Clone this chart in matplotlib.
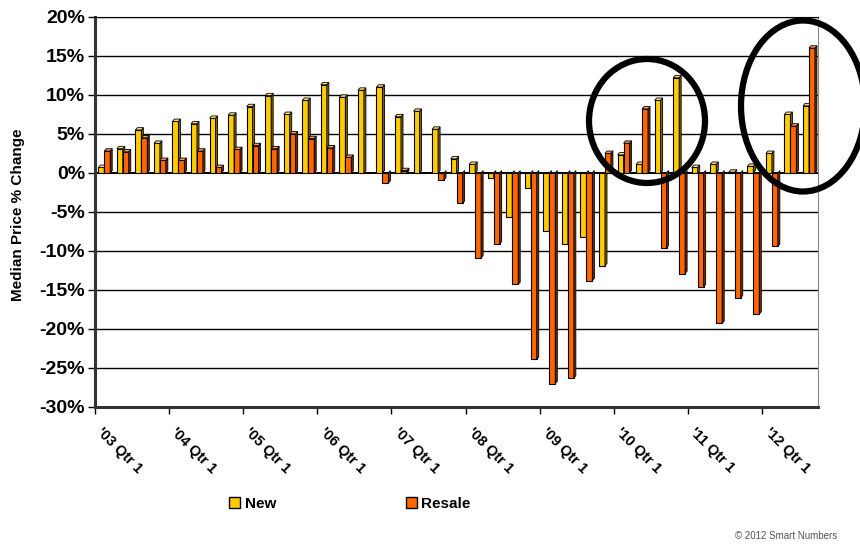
import numpy as np
import matplotlib
matplotlib.use("Agg")
import matplotlib.pyplot as plt
from matplotlib.patches import Patch, Ellipse

plt.rcParams["font.family"] = ["Liberation Sans", "DejaVu Sans"]

# quarterly median price change, '03 Q1 .. '12 Q3
years = ["'03", "'04", "'05", "'06", "'07", "'08", "'09", "'10", "'11", "'12"]
new = [0.7, 3.1, 5.5, 3.8,
       6.6, 6.3, 7.0, 7.4,
       8.5, 9.9, 7.5, 9.3,
       11.3, 9.7, 10.6, 11.0,
       7.2, 7.9, 5.6, 1.8,
       1.1, -0.6, -5.7, -1.9,
       -7.4, -9.1, -8.2, -11.9,
       2.3, 1.1, 9.3, 12.2,
       0.7, 1.1, 0.1, 0.85,
       2.5, 7.5, 8.6]
resale = [2.8, 2.7, 4.5, 1.6,
          1.6, 2.8, 0.7, 3.0,
          3.5, 3.1, 5.0, 4.4,
          3.2, 2.0, 0.0, -1.3,
          0.3, 0.0, -0.9, -3.9,
          -10.9, -9.1, -14.3, -23.9,
          -27.0, -26.3, -13.8, 2.5,
          3.8, 8.2, -9.6, -12.9,
          -14.6, -19.3, -16.0, -18.1,
          -9.4, 6.0, 16.0]
yticks = [20, 15, 10, 5, 0, -5, -10, -15, -20, -25, -30]


def bars3d(ax, xs, vals, w, face, side, top, dx=0.11, dy=0.3):
    # front faces
    ax.bar(xs, vals, w, color=face, edgecolor="black", linewidth=0.8, zorder=3)
    for x, v in zip(xs, vals):
        if v == 0:
            continue
        r = x + w / 2
        # right side face
        ax.fill([r, r + dx, r + dx, r], [0, dy, v + dy, v],
                facecolor=side, edgecolor="black", linewidth=0.6, zorder=3)
        if v > 0:
            l = x - w / 2
            ax.fill([l, l + dx, r + dx, r], [v, v + dy, v + dy, v],
                    facecolor=top, edgecolor="black", linewidth=0.6, zorder=3)


fig = plt.figure(figsize=(8.6, 5.44), dpi=100)
ax = fig.add_axes([0.110, 0.252, 0.841, 0.717])

n = len(new)
idx = np.arange(n)
w = 0.32
bars3d(ax, idx - 0.14, new, w, "#FFCC00", "#7a6200", "#ffe680")
bars3d(ax, idx + 0.18, resale, w, "#FF6600", "#6e2e00", "#ff9a55")

ax.set_xlim(-0.5, n - 0.5)
ax.set_ylim(-30, 20)

# gridlines
for t in yticks:
    ax.axhline(t, color="black", linewidth=1.4 if t == 0 else 1.0, zorder=1)

ax.set_yticks(yticks)
ax.set_yticklabels([f"{t}%" for t in yticks], fontsize=14, fontweight="bold")
ax.tick_params(axis="y", length=5, width=1, pad=2)

# tick marks between years, labels at each Q1
ax.set_xticks(np.arange(-0.5, n, 4))
ax.set_xticklabels([])
ax.tick_params(axis="x", which="major", length=5, width=1)
ax.set_xticks(np.arange(0, n, 4), minor=True)
ax.set_xticklabels([f"{y} Qtr 1" for y in years], minor=True, rotation=-45,
                   ha="left", va="top", rotation_mode="anchor",
                   fontsize=10.5, fontweight="bold")
ax.tick_params(axis="x", which="minor", length=0, pad=13)

for s in ["left", "bottom"]:
    ax.spines[s].set_linewidth(2.2)
    ax.spines[s].set_color("#333333")
ax.spines["right"].set_color("#888888")
ax.spines["top"].set_color("black")

fig.text(18 / 860, 1 - 215 / 544, "Median Price % Change",
         rotation=90, ha="center", va="center", fontsize=11, fontweight="bold")

handles = [Patch(facecolor="#FFCC00", edgecolor="black", label="New"),
           Patch(facecolor="#FF6600", edgecolor="black", label="Resale")]
fig.legend(handles=handles, loc="center", bbox_to_anchor=(0.407, 0.074), ncol=2,
           frameon=False, handlelength=0.7, handleheight=0.7, handletextpad=0.3,
           columnspacing=8.5, prop={"weight": "bold", "size": 11})

# highlight circles
for cx, cy, ew, eh in [(647, 121, 116, 124), (803, 106, 124, 171)]:
    fig.add_artist(Ellipse((cx / 860, 1 - cy / 544), ew / 860, eh / 544,
                           transform=fig.transFigure, fill=False,
                           edgecolor="black", linewidth=4.5))

fig.text(735 / 860, 0.006, "© 2012 Smart Numbers", fontsize=7, color="#555555",
         ha="left", va="bottom")

fig.savefig("out.png", dpi=100)
